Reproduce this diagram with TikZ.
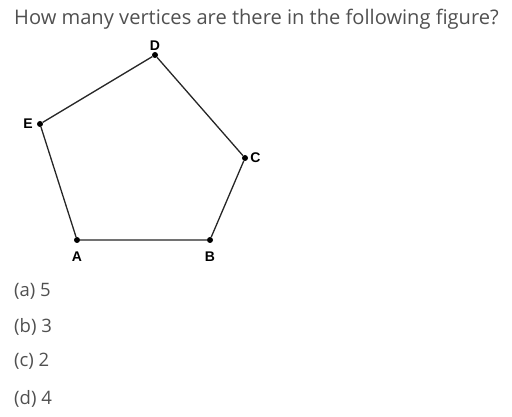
\documentclass[tikz,border=0pt]{standalone}
\usepackage{fontspec}
\setmainfont{Open Sans}
\newfontfamily\labelfont{Liberation Sans}
\usetikzlibrary{positioning}
\definecolor{textgray}{HTML}{505050}
\tikzset{
    x=1pt,
    y=-1pt,
    vertex/.style = {
        circle,
        fill=black,
        inner sep=0pt,
        minimum size=6pt
    },
    side/.style = {
        draw=black!85,
        line width=1.3pt
    },
    vlabel/.style = {
        font=\labelfont\bfseries\fontsize{14}{14}\selectfont,
        inner sep=1pt
    },
    question/.style = {
        font=\fontsize{20.1}{22}\selectfont,
        text=textgray,
        anchor=base west,
        inner sep=0pt
    },
    option/.style = {
        font=\fontsize{18.5}{20}\selectfont,
        text=textgray,
        anchor=base west,
        inner sep=0pt
    }
}
\begin{document}
\begin{tikzpicture}
    \useasboundingbox (0,0) rectangle (512,417);

    \node[question] (q) at (14,25) {How many vertices are there in the following figure?};

    \node[vertex] (D) at (155,55) {};
    \node[vertex] (E) at (40,124) {};
    \node[vertex] (C) at (245,158) {};
    \node[vertex] (B) at (210,240) {};
    \node[vertex] (A) at (77,240) {};

    \path[side] (A) -- (B) -- (C) -- (D) -- (E) -- (A);

    \node[vlabel, above=0pt of D] (lD) {D};
    \node[vlabel, left=3pt of E] (lE) {E};
    \node[vlabel, right=1pt of C] (lC) {C};
    \node[vlabel, below=7pt of B] (lB) {B};
    \node[vlabel, below=7pt of A] (lA) {A};

    \node[option] (oa) at (14,297) {(a) 5};
    \node[option] (ob) at (14,332) {(b) 3};
    \node[option] (oc) at (14,366) {(c) 2};
    \node[option] (od) at (14,404) {(d) 4};
\end{tikzpicture}
\end{document}
